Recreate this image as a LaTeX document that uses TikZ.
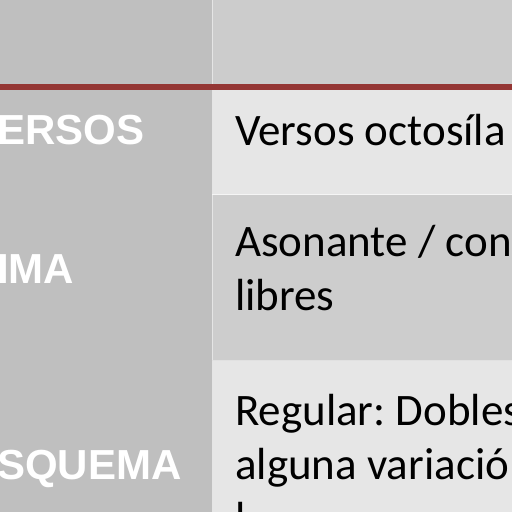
\documentclass[tikz,border=0pt]{standalone}
\usepackage{fontspec}
\setmainfont{Carlito}
\newfontfamily\headfont{Liberation Sans}
\frenchspacing
\definecolor{leftcol}{HTML}{BFBFBF}
\definecolor{headcol}{HTML}{CCCCCC}
\definecolor{lightrow}{HTML}{E6E6E6}
\definecolor{darkrow}{HTML}{CDCDCD}
\definecolor{redline}{HTML}{943634}
\tikzset{
  rowlabel/.style={anchor=base west, inner sep=0pt, text=white, font=\headfont\bfseries\fontsize{42}{48}\selectfont},
  celltext/.style={anchor=base west, inner sep=0pt, text=black, align=left, font=\frenchspacing\fontsize{45}{54}\selectfont},
}
\begin{document}
\begin{tikzpicture}[x=1pt,y=-1pt]
\useasboundingbox (0,0) rectangle (512,512);
\clip (0,0) rectangle (512,512);
% backgrounds
\fill[leftcol] (0,0) rectangle (212,512);
\fill[headcol] (212,0) rectangle (512,84);
\fill[lightrow] (212,90) rectangle (512,195);
\fill[darkrow] (212,195) rectangle (512,361);
\fill[lightrow] (212,361) rectangle (512,512);
% thin separators
\draw[white!50!headcol, line width=0.6pt] (212.3,0) -- (212.3,512);
\draw[white!60!lightrow, line width=1pt] (212,194.5) -- (512,194.5);
\draw[white!40!darkrow, line width=0.6pt] (212,360.7) -- (512,360.7);
% red rule
\fill[redline] (0,83.5) rectangle (512,90);
% left labels
\node[rowlabel] (l1) at (-3,144) {ERSOS};
\node[rowlabel] (l2) at (-3,283) {IMA};
\node[rowlabel] (l3) at (-3,479) {SQUEMA};
% right texts (anchored on the baseline of their last line)
\node[celltext] (c1) at (235,145) {Versos octosíla};
\node[celltext] (c2) at (235,310) {Asonante / con\\libres};
\node[celltext] (c3) at (235,533) {Regular: Dobles\\alguna variación\\l};
\end{tikzpicture}
\end{document}
